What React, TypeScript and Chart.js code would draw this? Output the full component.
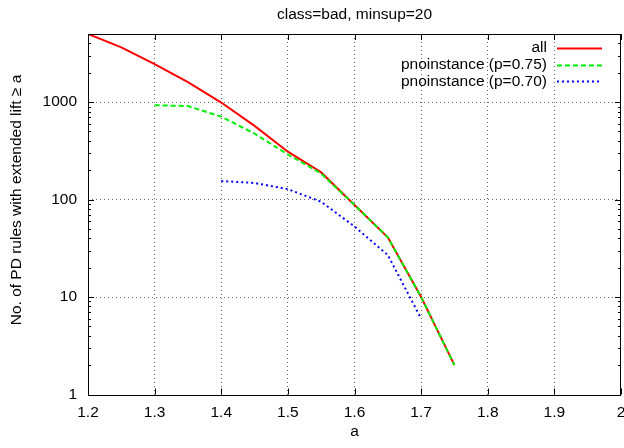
import React, { useEffect, useRef } from "react";
import { Chart, registerables } from "chart.js";

Chart.register(...registerables);

const titleText = "class=bad, minsup=20";
const xTitle = "a";
const yTitle = "No. of PD rules with extended lift \u2265 a";

const allA = [1.2, 1.25, 1.3, 1.35, 1.4, 1.45, 1.5, 1.55, 1.6, 1.65, 1.7, 1.75];
const allCounts = [5000, 3650, 2450, 1600, 990, 570, 310, 190, 88, 41, 10, 2];

const p75A = [1.3, 1.35, 1.4, 1.45, 1.5, 1.55, 1.6, 1.65, 1.7, 1.75];
const p75Counts = [930, 910, 710, 475, 290, 185, 88, 41, 10, 2];

const p70A = [1.4, 1.45, 1.5, 1.55, 1.6, 1.65, 1.7];
const p70Counts = [155, 148, 128, 95, 53, 27, 6];

const seriesLabels = ["all", "pnoinstance (p=0.75)", "pnoinstance (p=0.70)"];

const xTickValues = [1.2, 1.3, 1.4, 1.5, 1.6, 1.7, 1.8, 1.9, 2.0];
const yTickValues = [1, 10, 100, 1000];

const X_MIN = 1.2;
const X_MAX = 2.0;
const Y_MIN = 1;
const Y_MAX = 5000;

const FONT = "'Liberation Sans', Arial, Helvetica, sans-serif";
const FONT_SIZE = 15.5;

const toPoints = (xs: number[], ys: number[]) => xs.map((x, i) => ({ x, y: ys[i] }));

const framePlugin = {
  id: "gnuplotFrame",
  afterDraw(chart: any) {
    const { ctx, chartArea } = chart;
    const { left, right, top, bottom } = chartArea;
    const xs = chart.scales.x;
    const ys = chart.scales.y;
    ctx.save();
    ctx.strokeStyle = "#000";
    ctx.lineWidth = 1;
    ctx.strokeRect(Math.round(left) + 0.5, Math.round(top) + 0.5, Math.round(right - left) - 1, Math.round(bottom - top));
    ctx.beginPath();
    xTickValues.forEach((v) => {
      const px = Math.round(xs.getPixelForValue(v)) + 0.5;
      ctx.moveTo(px, bottom);
      ctx.lineTo(px, bottom - 6);
      ctx.moveTo(px, top);
      ctx.lineTo(px, top + 6);
    });
    for (let d = 1; d <= 1000; d *= 10) {
      for (let m = 1; m <= 9; m++) {
        const v = m * d;
        if (v > Y_MAX) continue;
        const py = Math.round(ys.getPixelForValue(v)) + 0.5;
        const len = m === 1 ? 6 : 3;
        ctx.moveTo(left, py);
        ctx.lineTo(left + len, py);
        ctx.moveTo(right, py);
        ctx.lineTo(right - len, py);
      }
    }
    ctx.stroke();

    ctx.font = `${FONT_SIZE}px ${FONT}`;
    ctx.fillStyle = "#000";
    ctx.textAlign = "right";
    ctx.textBaseline = "middle";
    const rowY0 = top + 14;
    const rowStep = 16.7;
    chart.data.datasets.forEach((ds: any, i: number) => {
      const y = rowY0 + i * rowStep;
      ctx.fillText(ds.label, right - 74, y);
      ctx.save();
      ctx.strokeStyle = ds.borderColor;
      ctx.lineWidth = ds.borderWidth;
      ctx.setLineDash(ds.borderDash || []);
      ctx.beginPath();
      ctx.moveTo(right - 64, Math.round(y) + 0.5);
      ctx.lineTo(right - 19, Math.round(y) + 0.5);
      ctx.stroke();
      ctx.restore();
    });

    const cx = (left + right) / 2;
    ctx.textAlign = "center";
    ctx.fillText(titleText, cx, 15);
    ctx.fillText(xTitle, cx, 432);
    ctx.save();
    ctx.translate(17, 200);
    ctx.rotate(-Math.PI / 2);
    ctx.fillText(yTitle, 0, 0);
    ctx.restore();
    ctx.restore();
  },
};

const gridColor = (min: number, max: number) => (c: any) => {
  const v = c.tick ? c.tick.value : NaN;
  if (Math.abs(v - min) < 1e-9 || Math.abs(v - max) < 1e-9) return "rgba(0,0,0,0)";
  return "rgba(0,0,0,0.6)";
};

export default function App() {
  const canvasRef = useRef<HTMLCanvasElement | null>(null);

  useEffect(() => {
    document.body.style.margin = "0";
    const canvas = canvasRef.current;
    if (!canvas) return;
    const chart = new Chart(canvas, {
      type: "line",
      data: {
        datasets: [
          {
            label: seriesLabels[0],
            data: toPoints(allA, allCounts),
            borderColor: "#ff0000",
            borderWidth: 2,
            pointRadius: 0,
            tension: 0,
            fill: false,
            order: 3,
          },
          {
            label: seriesLabels[1],
            data: toPoints(p75A, p75Counts),
            borderColor: "#00ee00",
            borderWidth: 2,
            borderDash: [5, 3],
            pointRadius: 0,
            tension: 0,
            fill: false,
            order: 2,
          },
          {
            label: seriesLabels[2],
            data: toPoints(p70A, p70Counts),
            borderColor: "#0000ff",
            borderWidth: 2,
            borderDash: [2, 3],
            pointRadius: 0,
            tension: 0,
            fill: false,
            order: 1,
          },
        ],
      },
      options: {
        animation: false,
        responsive: false,
        devicePixelRatio: 1,
        layout: { padding: { top: 34, right: 3, left: 0, bottom: 0 } },
        plugins: {
          legend: { display: false },
          title: { display: false },
          tooltip: { enabled: false },
        },
        scales: {
          x: {
            type: "linear",
            min: X_MIN,
            max: X_MAX,
            afterBuildTicks: (s: any) => {
              s.ticks = xTickValues.map((v) => ({ value: v }));
            },
            afterFit: (s: any) => {
              s.height = 53.5;
              s.paddingLeft = 0;
              s.paddingRight = 0;
            },
            ticks: {
              autoSkip: false,
              maxRotation: 0,
              padding: 9,
              color: "#000",
              font: { family: FONT, size: FONT_SIZE },
              callback: (v: any) => String(Number(Number(v).toFixed(1))),
            },
            grid: {
              drawTicks: false,
              color: gridColor(X_MIN, X_MAX),
              lineWidth: 1,
            },
            border: { display: false, dash: [1, 3] },
          },
          y: {
            type: "logarithmic",
            min: Y_MIN,
            max: Y_MAX,
            afterBuildTicks: (s: any) => {
              s.ticks = yTickValues.map((v) => ({ value: v }));
            },
            afterFit: (s: any) => {
              s.width = 88;
              s.paddingTop = 0;
              s.paddingBottom = 0;
            },
            ticks: {
              autoSkip: false,
              padding: 11,
              color: "#000",
              font: { family: FONT, size: FONT_SIZE },
              callback: (v: any) => String(v),
            },
            grid: {
              drawTicks: false,
              color: gridColor(Y_MIN, Y_MAX),
              lineWidth: 1,
            },
            border: { display: false, dash: [1, 3] },
          },
        },
      },
      plugins: [framePlugin],
    } as any);
    return () => chart.destroy();
  }, []);

  return (
    <div style={{ position: "absolute", left: 0, top: 0, width: 624, height: 448, background: "#fff" }}>
      <canvas ref={canvasRef} width={624} height={448} style={{ width: 624, height: 448 }} />
    </div>
  );
}
